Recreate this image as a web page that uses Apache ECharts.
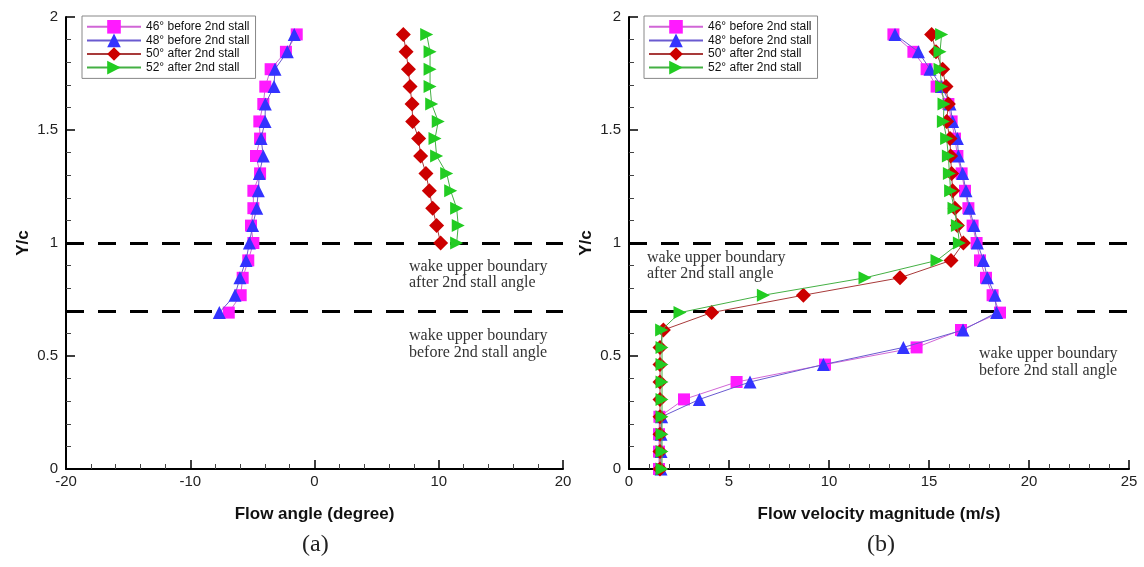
<!DOCTYPE html>
<html>
<head>
<meta charset="utf-8">
<script src="https://cdn.jsdelivr.net/npm/echarts@6/dist/echarts.min.js"></script>
<style>
html,body{margin:0;padding:0;background:#fff;}
#chart{width:1144px;height:567px;}
</style>
</head>
<body>
<div id="chart"></div>
<script>
// ---- data ----
var seriesNames = ['46\u00b0 before 2nd stall', '48\u00b0 before 2nd stall', '50\u00b0 after 2nd stall', '52\u00b0 after 2nd stall'];

// Y/c stations (measurement traverse)
var yAll = [0, 0.077, 0.154, 0.231, 0.308, 0.385, 0.462, 0.538, 0.615, 0.692, 0.769, 0.846, 0.923,
            1.0, 1.077, 1.154, 1.231, 1.308, 1.385, 1.462, 1.538, 1.615, 1.692, 1.769, 1.846, 1.923];
var yLeftBefore = [0.692, 0.769, 0.846, 0.923, 1.0, 1.077, 1.154, 1.231, 1.308, 1.385, 1.462, 1.538, 1.615, 1.692, 1.769, 1.846, 1.923];
var yLeftAfter = [1.0, 1.077, 1.154, 1.231, 1.308, 1.385, 1.462, 1.538, 1.615, 1.692, 1.769, 1.846, 1.923];

// (a) flow angle (degree)
var angle46 = [-6.9, -5.94, -5.78, -5.33, -4.92, -5.11, -4.92, -4.92, -4.38, -4.71, -4.38, -4.44, -4.12, -3.96, -3.53, -2.3, -1.43];
var angle48 = [-7.66, -6.4, -6.0, -5.51, -5.24, -4.98, -4.65, -4.52, -4.44, -4.12, -4.3, -3.98, -3.96, -3.26, -3.18, -2.19, -1.63];
var angle50 = [10.15, 9.83, 9.51, 9.24, 8.97, 8.54, 8.38, 7.9, 7.85, 7.69, 7.56, 7.37, 7.15];
var angle52 = [11.44, 11.57, 11.44, 10.96, 10.64, 9.83, 9.7, 9.96, 9.43, 9.3, 9.3, 9.3, 9.03];

// (b) flow velocity magnitude (m/s)
var vel46 = [1.5, 1.5, 1.5, 1.52, 2.75, 5.38, 9.8, 14.38, 16.6, 18.55, 18.18, 17.85, 17.55, 17.38, 17.18, 16.97, 16.8, 16.63, 16.42, 16.3, 16.13, 15.97, 15.38, 14.88, 14.22, 13.22];
var vel48 = [1.6, 1.6, 1.6, 1.63, 3.52, 6.05, 9.72, 13.72, 16.7, 18.38, 18.3, 17.92, 17.72, 17.42, 17.25, 17.02, 16.85, 16.68, 16.47, 16.42, 16.18, 16.05, 15.63, 15.05, 14.47, 13.3];
var vel50 = [1.55, 1.55, 1.55, 1.55, 1.55, 1.55, 1.55, 1.55, 1.72, 4.13, 8.72, 13.55, 16.1, 16.72, 16.42, 16.3, 16.18, 16.13, 16.08, 16.05, 15.88, 15.97, 15.85, 15.68, 15.35, 15.13];
var vel52 = [1.65, 1.65, 1.65, 1.65, 1.65, 1.65, 1.65, 1.65, 1.63, 2.55, 6.72, 11.8, 15.4, 16.52, 16.42, 16.25, 16.08, 16.02, 15.97, 15.88, 15.72, 15.75, 15.63, 15.55, 15.55, 15.63];

var boundaryLevels = [1.0, 0.7];

// ---- styling ----
var styles = [
  {symbol: 'rect', size: 12, rotate: 0, fill: '#ff1aff', line: '#d066d6'},
  {symbol: 'triangle', size: 13, rotate: 0, fill: '#3333ff', line: '#6a5ad0'},
  {symbol: 'diamond', size: 15, rotate: 0, fill: '#cc0000', line: '#a83a3a'},
  {symbol: 'triangle', size: 13, rotate: -90, fill: '#22cc22', line: '#44b044'}
];

function pairs(xs, ys) { return xs.map(function (v, i) { return [v, ys[i]]; }); }

function mkSeries(idx, data, grid, withMark) {
  var s = styles[idx];
  var o = {
    name: seriesNames[idx], type: 'line', xAxisIndex: grid, yAxisIndex: grid,
    data: data, symbol: s.symbol, symbolSize: s.size, symbolRotate: s.rotate,
    itemStyle: {color: s.fill, borderWidth: 0},
    lineStyle: {color: s.line, width: 1},
    showSymbol: true, z: 3 + idx
  };
  if (withMark) {
    o.markLine = {
      silent: true, symbol: 'none', label: {show: false},
      lineStyle: {type: [18, 14], width: 3, color: '#000'},
      data: boundaryLevels.map(function (v) { return {yAxis: v}; }),
      z: 1
    };
  }
  return o;
}

var tickLbl = {fontSize: 15, color: '#222', fontFamily: 'Liberation Sans, Arial'};
function xAx(grid, min, max, interval, name) {
  return {
    gridIndex: grid, type: 'value', min: min, max: max, interval: interval,
    name: name, nameLocation: 'middle', nameGap: 37,
    nameTextStyle: {fontSize: 17, fontWeight: 'bold', color: '#111', fontFamily: 'Liberation Sans, Arial'},
    axisLine: {show: true, onZero: false, lineStyle: {color: '#000', width: 2}},
    axisTick: {show: true, inside: true, length: 9, lineStyle: {color: '#000', width: 1.5}},
    minorTick: {show: true, splitNumber: 5, length: 5, lineStyle: {color: '#444', width: 1}},
    axisLabel: Object.assign({margin: 5}, tickLbl),
    splitLine: {show: false}
  };
}
function yAx(grid) {
  return {
    gridIndex: grid, type: 'value', min: 0, max: 2, interval: 0.5,
    name: 'Y/c', nameLocation: 'middle', nameGap: 34, nameRotate: 90,
    nameTextStyle: {fontSize: 17, fontWeight: 'bold', color: '#111', fontFamily: 'Liberation Sans, Arial'},
    axisLine: {show: true, onZero: false, lineStyle: {color: '#000', width: 2}},
    axisTick: {show: true, inside: true, length: 9, lineStyle: {color: '#000', width: 1.5}},
    minorTick: {show: true, splitNumber: 5, length: 5, lineStyle: {color: '#444', width: 1}},
    axisLabel: Object.assign({margin: 8}, tickLbl),
    splitLine: {show: false}
  };
}

function legendAt(left) {
  return {
    left: left, top: 16, orient: 'vertical', data: seriesNames,
    itemWidth: 54, itemHeight: 17, itemGap: 0,
    padding: [4, 6, 4, 4], borderColor: '#888', borderWidth: 1,
    backgroundColor: '#fff',
    textStyle: {fontSize: 12, color: '#111', fontFamily: 'Liberation Sans, Arial'},
    selectedMode: false
  };
}

var serif = '16px "Liberation Serif", "Times New Roman", serif';
function txt(x, y, t) {
  return {type: 'text', left: x, top: y, silent: true,
    style: {text: t, font: serif, fill: '#333'}};
}

var chart = echarts.init(document.getElementById('chart'), null, {renderer: 'canvas'});
chart.setOption({
  animation: false,
  backgroundColor: '#fff',
  grid: [
    {left: 66, top: 17, width: 497, height: 452},
    {left: 629, top: 17, width: 500, height: 452}
  ],
  xAxis: [
    xAx(0, -20, 20, 10, 'Flow angle (degree)'),
    xAx(1, 0, 25, 5, 'Flow velocity magnitude (m/s)')
  ],
  yAxis: [yAx(0), yAx(1)],
  legend: [legendAt(82), legendAt(644)],
  series: [
    mkSeries(0, pairs(angle46, yLeftBefore), 0, true),
    mkSeries(1, pairs(angle48, yLeftBefore), 0, false),
    mkSeries(2, pairs(angle50, yLeftAfter), 0, false),
    mkSeries(3, pairs(angle52, yLeftAfter), 0, false),
    mkSeries(0, pairs(vel46, yAll), 1, true),
    mkSeries(1, pairs(vel48, yAll), 1, false),
    mkSeries(2, pairs(vel50, yAll), 1, false),
    mkSeries(3, pairs(vel52, yAll), 1, false)
  ],
  graphic: [
    txt(409, 259, 'wake upper boundary'),
    txt(409, 275, 'after 2nd stall angle'),
    txt(409, 328, 'wake upper boundary'),
    txt(409, 345, 'before 2nd stall angle'),
    txt(647, 250, 'wake upper boundary'),
    txt(647, 266, 'after 2nd stall angle'),
    txt(979, 346, 'wake upper boundary'),
    txt(979, 363, 'before 2nd stall angle'),
    {type: 'text', left: 302, top: 533, silent: true,
      style: {text: '(a)', font: '24px "Liberation Serif", serif', fill: '#222'}},
    {type: 'text', left: 867, top: 533, silent: true,
      style: {text: '(b)', font: '24px "Liberation Serif", serif', fill: '#222'}}
  ]
});
</script>
</body>
</html>
